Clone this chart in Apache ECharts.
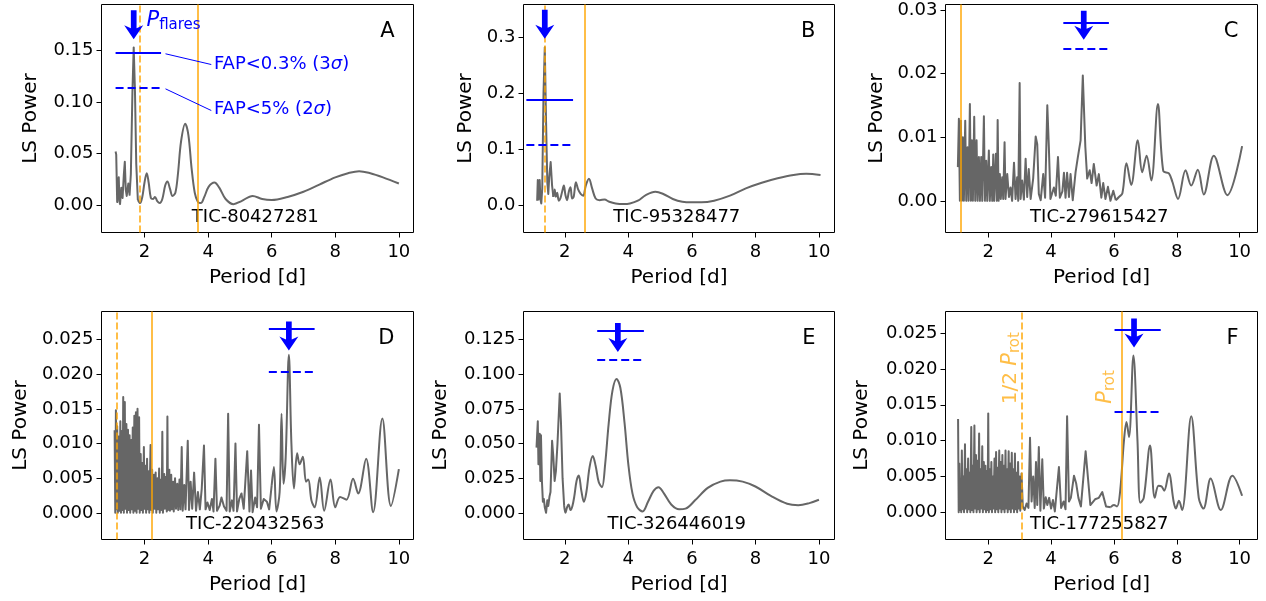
<!DOCTYPE html>
<html><head><meta charset="utf-8">
<script src="https://cdn.jsdelivr.net/npm/echarts@6/dist/echarts.min.js"></script>
<style>html,body{margin:0;padding:0;background:#fff}#c{width:1266px;height:601px}</style>
</head><body><div id="c"></div>
<script>
// ---------------- DATA ----------------
const panelLetters = ['A','B','C','D','E','F'];
const ticNames = ['TIC-80427281','TIC-95328477','TIC-279615427','TIC-220432563','TIC-326446019','TIC-177255827'];
const xTicks = [2,4,6,8,10];
const yTicks = [
  [0,0.05,0.10,0.15],
  [0,0.1,0.2,0.3],
  [0,0.01,0.02,0.03],
  [0,0.005,0.010,0.015,0.020,0.025],
  [0,0.025,0.050,0.075,0.100,0.125],
  [0,0.005,0.010,0.015,0.020,0.025]
];
const yDecimals = [2,1,2,3,3,3];

// period of rotation (solid orange) and half of it (dashed orange)
const rotPeriod     = [3.68, 2.62, 1.14, 2.24, null, 6.24];
const halfRotPeriod = [1.84, 1.36, null, 1.12, null, 3.08];
// flare period (arrow) and the power where the arrow tip points
const flarePeriod   = [1.66, 1.37, 5.04, 6.54, 3.67, 6.64];
const arrowTipPower = [0.161, 0.297, 0.0253, 0.0234, 0.1159, 0.0230];
// false alarm probability levels and their period span
const fap3  = [0.1477, 0.189, 0.0279, 0.02654, 0.1315, 0.02547];
const fap2  = [0.1135, 0.108, 0.0239, 0.02038, 0.1103, 0.01406];
const fapFrom = [1.09, 0.79, 4.39, 5.91, 3.02, 6.02];
const fapTo   = [2.52, 2.26, 5.84, 7.35, 4.49, 7.49];

const curveA = [[1.09,0.052],[1.11,0.049],[1.14,0.003],[1.17,0.02],[1.19,0.027],[1.21,0.004],[1.23,0.001],[1.27,0.017],[1.31,0.007],[1.35,0.03],[1.38,0.042],[1.41,0.015],[1.44,0.009],[1.49,0.021],[1.53,0.01],[1.57,0.03],[1.62,0.11],[1.66,0.153],[1.70,0.11],[1.74,0.04],[1.79,0.005],[1.86,0.002],[1.93,0.008],[2.0,0.022],[2.07,0.031],[2.13,0.022],[2.2,0.007],[2.27,0.006],[2.33,0.008],[2.4,0.004],[2.48,0.002],[2.56,0.006],[2.65,0.019],[2.72,0.023],[2.8,0.016],[2.88,0.009],[2.97,0.012],[3.05,0.03],[3.15,0.062],[3.28,0.079],[3.38,0.068],[3.48,0.036],[3.58,0.012],[3.68,0.003],[3.77,0.002],[3.88,0.008],[4.02,0.018],[4.2,0.022],[4.35,0.017],[4.55,0.006],[4.8,0.001],[5.05,0.004],[5.4,0.009],[5.7,0.006],[6.0,0.005],[6.5,0.008],[7.0,0.013],[7.5,0.02],[8.0,0.027],[8.4,0.031],[8.75,0.033],[9.1,0.031],[9.5,0.027],[10.0,0.021]];

const curveB = [[1.13,0.008],[1.15,0.045],[1.17,0.01],[1.19,0.008],[1.21,0.045],[1.23,0.012],[1.26,0.003],[1.29,0.03],[1.33,0.2],[1.37,0.282],[1.41,0.15],[1.45,0.04],[1.48,0.02],[1.51,0.05],[1.555,0.077],[1.60,0.035],[1.64,0.015],[1.68,0.028],[1.72,0.015],[1.76,0.022],[1.81,0.008],[1.86,0.012],[1.92,0.025],[1.97,0.035],[2.02,0.018],[2.07,0.009],[2.13,0.025],[2.18,0.032],[2.23,0.012],[2.28,0.015],[2.35,0.041],[2.42,0.028],[2.5,0.02],[2.58,0.017],[2.66,0.035],[2.76,0.047],[2.86,0.03],[2.97,0.012],[3.1,0.009],[3.25,0.01],[3.4,0.006],[3.6,0.003],[3.85,0.002],[4.05,0.003],[4.3,0.008],[4.55,0.018],[4.85,0.024],[5.1,0.02],[5.4,0.011],[5.7,0.006],[6.0,0.005],[6.3,0.005],[6.7,0.008],[7.2,0.017],[7.7,0.03],[8.2,0.04],[8.7,0.048],[9.2,0.054],[9.6,0.056],[10.05,0.054]];

const curveC = [[1.034,0.0053],[1.066,0.0129],[1.098,0.0],[1.13,0.0126],[1.162,0.0],[1.194,0.0100],[1.225,0.0],[1.268,0.0126],[1.30,0.0],[1.342,0.0084],[1.374,0.0],[1.416,0.0152],[1.448,0.0],[1.48,0.0095],[1.512,0.0],[1.554,0.0132],[1.586,0.0],[1.629,0.0095],[1.66,0.0],[1.703,0.0069],[1.735,0.0],[1.777,0.0069],[1.809,0.0],[1.862,0.0133],[1.894,0.0],[1.936,0.0063],[1.968,0.0],[2.02,0.0079],[2.05,0.0],[2.095,0.0053],[2.127,0.0],[2.16,0.0073],[2.19,0.0],[2.244,0.0074],[2.276,0.0],[2.30,0.0127],[2.33,0.0],[2.37,0.0042],[2.40,0.0003],[2.445,0.0037],[2.477,0.0003],[2.52,0.0092],[2.55,0.0003],[2.605,0.0042],[2.66,0.0006],[2.71,0.0021],[2.76,0.0],[2.82,0.006],[2.87,0.0003],[2.92,0.0037],[2.955,0.0],[3.0,0.0185],[3.03,0.0003],[3.08,0.0032],[3.135,0.0002],[3.19,0.0066],[3.24,0.0006],[3.29,0.005],[3.35,0.0003],[3.43,0.0035],[3.51,0.0101],[3.56,0.0089],[3.61,0.0011],[3.67,0.0001],[3.75,0.0042],[3.81,0.0005],[3.88,0.015],[3.93,0.0084],[3.98,0.0003],[4.09,0.0021],[4.15,0.0008],[4.22,0.0069],[4.28,0.0005],[4.36,0.0015],[4.41,0.0044],[4.46,0.0005],[4.51,0.0044],[4.57,0.0006],[4.62,0.0042],[4.69,0.0001],[4.78,0.0045],[4.85,0.0068],[4.94,0.0095],[5.01,0.0197],[5.09,0.0085],[5.15,0.0035],[5.23,0.0048],[5.29,0.0028],[5.36,0.0058],[5.45,0.0024],[5.52,0.0042],[5.60,0.0005],[5.66,0.0028],[5.73,0.0003],[5.81,0.0022],[5.89,0.0],[5.98,0.0016],[6.06,0.0001],[6.16,0.0006],[6.27,0.0012],[6.40,0.0059],[6.55,0.0025],[6.76,0.0095],[6.90,0.0045],[7.04,0.0071],[7.19,0.0032],[7.40,0.0152],[7.57,0.0047],[7.75,0.0043],[7.86,0.003],[8.04,0.0003],[8.28,0.0048],[8.46,0.0024],[8.67,0.0049],[8.86,0.0010],[9.18,0.0071],[9.61,0.0009],[10.08,0.0086]];

const curveD = [[1.06,0.0119],[1.08,0.0],[1.10,0.0148],[1.12,0.0005],[1.14,0.0125],[1.16,0.0],[1.19,0.0110],[1.21,0.0003],[1.24,0.0132],[1.26,0.0],[1.29,0.0118],[1.31,0.0004],[1.33,0.0167],[1.35,0.0],[1.38,0.0160],[1.40,0.0006],[1.43,0.0128],[1.45,0.0],[1.48,0.0120],[1.50,0.0004],[1.53,0.0112],[1.55,0.0],[1.58,0.0105],[1.60,0.0005],[1.63,0.0123],[1.65,0.0],[1.68,0.0140],[1.70,0.0003],[1.73,0.0145],[1.75,0.0],[1.78,0.0150],[1.80,0.0006],[1.83,0.0138],[1.85,0.0],[1.88,0.0085],[1.90,0.0004],[1.93,0.0072],[1.95,0.0],[1.98,0.0095],[2.00,0.0006],[2.03,0.0068],[2.05,0.0],[2.08,0.0078],[2.10,0.0005],[2.13,0.0060],[2.15,0.0],[2.19,0.0098],[2.21,0.0004],[2.24,0.0062],[2.26,0.0],[2.30,0.0055],[2.32,0.0006],[2.35,0.0058],[2.37,0.0],[2.41,0.0050],[2.43,0.0005],[2.46,0.0064],[2.48,0.0],[2.52,0.0048],[2.54,0.0004],[2.56,0.0117],[2.58,0.0],[2.62,0.0056],[2.64,0.0006],[2.68,0.0052],[2.70,0.0002],[2.72,0.0139],[2.74,0.0004],[2.78,0.0062],[2.80,0.0003],[2.84,0.0055],[2.86,0.0005],[2.90,0.0045],[2.92,0.0002],[2.96,0.0050],[2.99,0.0006],[3.03,0.0042],[3.06,0.0004],[3.10,0.0048],[3.13,0.0005],[3.17,0.0095],[3.20,0.0003],[3.25,0.0040],[3.29,0.0005],[3.36,0.0104],[3.40,0.0004],[3.45,0.0045],[3.50,0.0006],[3.56,0.0058],[3.62,0.0003],[3.68,0.0030],[3.74,0.0005],[3.80,0.0035],[3.87,0.0097],[3.92,0.0005],[3.98,0.0015],[4.05,0.0004],[4.12,0.0020],[4.17,0.0002],[4.23,0.0078],[4.28,0.0003],[4.36,0.0010],[4.42,0.0022],[4.50,0.0009],[4.58,0.0003],[4.63,0.0143],[4.68,0.0002],[4.75,0.0018],[4.80,0.0003],[4.86,0.0100],[4.91,0.0002],[4.98,0.0020],[5.05,0.0028],[5.12,0.0006],[5.23,0.0089],[5.30,0.0002],[5.35,0.0061],[5.40,0.0001],[5.48,0.0022],[5.54,0.0008],[5.60,0.0127],[5.66,0.0006],[5.75,0.0020],[5.85,0.0016],[5.92,0.0005],[6.00,0.0040],[6.07,0.0066],[6.15,0.0002],[6.25,0.0030],[6.31,0.0143],[6.37,0.0042],[6.44,0.0080],[6.54,0.0228],[6.62,0.0100],[6.70,0.0035],[6.80,0.0086],[6.88,0.0070],[6.98,0.0081],[7.08,0.0045],[7.15,0.0048],[7.25,0.0018],[7.35,0.0008],[7.51,0.0051],[7.65,0.0003],[7.85,0.0048],[8.00,0.0008],[8.15,0.0023],[8.35,0.0019],[8.56,0.0049],[8.72,0.0028],[8.97,0.0078],[9.19,0.0001],[9.48,0.0136],[9.75,0.0010],[10.0,0.0063]];

const curveE = [[1.11,0.047],[1.15,0.066],[1.17,0.035],[1.19,0.045],[1.21,0.057],[1.23,0.023],[1.25,0.056],[1.28,0.023],[1.31,0.008],[1.34,0.01],[1.37,0.004],[1.41,0.0],[1.45,0.009],[1.48,0.005],[1.52,0.012],[1.55,0.015],[1.6,0.052],[1.64,0.04],[1.68,0.023],[1.72,0.03],[1.77,0.05],[1.84,0.086],[1.88,0.065],[1.93,0.025],[1.98,0.005],[2.02,0.0],[2.07,0.004],[2.12,0.006],[2.18,0.002],[2.24,0.005],[2.3,0.012],[2.37,0.023],[2.44,0.027],[2.52,0.016],[2.6,0.008],[2.68,0.015],[2.78,0.033],[2.88,0.041],[2.97,0.034],[3.07,0.022],[3.17,0.0185],[3.27,0.035],[3.38,0.064],[3.5,0.088],[3.63,0.0966],[3.75,0.09],[3.88,0.065],[4.0,0.035],[4.13,0.014],[4.28,0.004],[4.45,0.001],[4.62,0.008],[4.8,0.016],[4.95,0.0185],[5.12,0.014],[5.35,0.006],[5.6,0.0025],[5.8,0.003],[6.1,0.009],[6.5,0.018],[6.9,0.0225],[7.2,0.0235],[7.6,0.0225],[8.0,0.019],[8.5,0.012],[9.0,0.0065],[9.35,0.0055],[9.7,0.007],[10.0,0.0094]];

const curveF = [[1.04,0.0130],[1.06,0.0],[1.08,0.0068],[1.10,0.0003],[1.12,0.0045],[1.14,0.0],[1.16,0.0086],[1.18,0.0004],[1.21,0.0050],[1.23,0.0],[1.26,0.0095],[1.28,0.0005],[1.31,0.0060],[1.33,0.0],[1.36,0.0075],[1.38,0.0004],[1.41,0.0055],[1.43,0.0],[1.46,0.0119],[1.48,0.0003],[1.51,0.0065],[1.53,0.0],[1.56,0.0121],[1.58,0.0005],[1.61,0.0080],[1.63,0.0],[1.66,0.0072],[1.68,0.0004],[1.71,0.0110],[1.73,0.0],[1.76,0.0060],[1.78,0.0005],[1.81,0.0092],[1.83,0.0],[1.86,0.0070],[1.88,0.0004],[1.91,0.0065],[1.93,0.0],[1.96,0.0058],[1.98,0.0003],[2.00,0.0138],[2.02,0.0],[2.05,0.0060],[2.07,0.0004],[2.10,0.0070],[2.12,0.0],[2.15,0.0050],[2.17,0.0005],[2.20,0.0075],[2.22,0.0],[2.25,0.0084],[2.27,0.0004],[2.30,0.0062],[2.32,0.0],[2.35,0.0086],[2.37,0.0005],[2.40,0.0070],[2.42,0.0],[2.45,0.0080],[2.47,0.0004],[2.50,0.0065],[2.52,0.0],[2.55,0.0086],[2.57,0.0005],[2.60,0.0060],[2.62,0.0],[2.65,0.0085],[2.67,0.0004],[2.70,0.0068],[2.72,0.0],[2.75,0.0083],[2.77,0.0005],[2.80,0.0060],[2.82,0.0],[2.85,0.0082],[2.87,0.0004],[2.90,0.0055],[2.92,0.0],[2.95,0.0070],[2.97,0.0005],[3.00,0.0050],[3.02,0.0002],[3.06,0.0054],[3.10,0.0008],[3.16,0.0003],[3.22,0.0012],[3.28,0.0006],[3.33,0.0104],[3.38,0.0015],[3.43,0.0050],[3.48,0.0006],[3.52,0.0070],[3.56,0.0010],[3.61,0.0091],[3.66,0.0002],[3.72,0.0074],[3.77,0.0005],[3.83,0.0021],[3.88,0.0010],[3.94,0.0020],[4.00,0.0005],[4.06,0.0017],[4.12,0.0001],[4.25,0.0063],[4.32,0.0006],[4.40,0.0015],[4.46,0.0004],[4.51,0.0134],[4.57,0.0015],[4.63,0.0020],[4.73,0.0051],[4.80,0.0040],[4.87,0.0020],[4.95,0.0008],[5.10,0.0085],[5.25,0.0010],[5.40,0.0018],[5.52,0.0020],[5.63,0.0028],[5.75,0.0008],[5.90,0.0007],[6.00,0.0010],[6.10,0.0008],[6.20,0.0030],[6.32,0.0100],[6.40,0.0126],[6.48,0.0105],[6.62,0.0219],[6.75,0.0100],[6.84,0.0013],[6.95,0.0020],[7.15,0.0093],[7.30,0.0020],[7.42,0.0037],[7.52,0.0036],[7.60,0.0030],[7.75,0.0054],[7.90,0.0015],[7.97,0.0005],[8.07,0.0016],[8.17,0.0003],[8.46,0.0134],[8.70,0.0020],[8.85,0.0005],[9.08,0.0047],[9.40,0.0003],[9.77,0.0051],[10.08,0.0023]];

const curves = [curveA, curveB, curveC, curveD, curveE, curveF];

// ---------------- LAYOUT / STYLE ----------------
const FONT = 'DejaVu Sans';
const GRAY = '#666666';
const ORANGE = 'rgba(255,165,0,0.72)';
const BLUE = '#0000ff';
const grids = [
  {left:101.5, top:4.5,   width:312, height:228},
  {left:523.5, top:4.5,   width:311, height:228},
  {left:945.5, top:4.5,   width:312, height:228},
  {left:101.5, top:311.5, width:312, height:228},
  {left:523.5, top:311.5, width:311, height:228},
  {left:945.5, top:311.5, width:312, height:228}
];
const xRange = [[0.647,10.46],[0.70,10.49],[0.64,10.57],[0.647,10.46],[0.70,10.49],[0.64,10.57]];
const yRange = [[-0.0265,0.1946],[-0.0488,0.3583],[-0.00497,0.03084],[-0.003846,0.02904],[-0.01923,0.14519],[-0.003817,0.02803]];
const yNameGap = [61,48,59,71,73,74];
const smoothFrom = [1.79, 1.64, 6.0, 6.0, 1.98, 5.9];
const ARROW = 'path://M7,0L13,0L13,18L20,15L10,29L0,15L7,18Z';

const richSub = (color) => ({
  n:{fontSize:20, color:color, fontFamily:FONT, lineHeight:24, verticalAlign:'middle'},
  p:{fontSize:21, fontStyle:'italic', color:color, fontFamily:FONT, lineHeight:24, verticalAlign:'middle'},
  s:{fontSize:15, color:color, fontFamily:FONT, lineHeight:15, verticalAlign:'bottom'},
  i:{fontSize:18, fontStyle:'italic', color:color, fontFamily:FONT}
});
const textPoint = (coord, formatter, color) => ({
  coord: coord, symbol:'circle', symbolSize:0.1, itemStyle:{color:'rgba(0,0,0,0)'},
  label:{show:true, position:'right', distance:0, formatter:formatter, color:color,
         fontSize:18, fontFamily:FONT, rich:richSub(color)}
});

const gridOpt = [], xAxes = [], yAxes = [], series = [], graphics = [];
for (let i = 0; i < 6; i++) {
  const g = grids[i];
  gridOpt.push({left:g.left, top:g.top, width:g.width, height:g.height, show:true,
    borderColor:'#000', borderWidth:1, backgroundColor:'transparent', containLabel:false, outerBoundsMode:'none'});
  xAxes.push({type:'value', gridIndex:i, min:xRange[i][0], max:xRange[i][1], position:'bottom',
    name:'Period [d]', nameLocation:'middle', nameGap:35,
    nameTextStyle:{fontSize:20, color:'#000', fontFamily:FONT},
    axisLine:{show:false, onZero:false}, splitLine:{show:false},
    axisTick:{show:true, length:5, inside:false, customValues:xTicks, lineStyle:{color:'#000', width:1}},
    axisLabel:{show:true, customValues:xTicks, fontSize:18, color:'#000', fontFamily:FONT, margin:11,
      formatter:(v)=>String(v)}});
  const dec = yDecimals[i];
  yAxes.push({type:'value', gridIndex:i, min:yRange[i][0], max:yRange[i][1], position:'left',
    name:'LS Power', nameLocation:'middle', nameGap:yNameGap[i],
    nameTextStyle:{fontSize:20, color:'#000', fontFamily:FONT},
    axisLine:{show:false, onZero:false}, splitLine:{show:false},
    axisTick:{show:true, length:5, inside:false, customValues:yTicks[i], lineStyle:{color:'#000', width:1}},
    axisLabel:{show:true, customValues:yTicks[i], fontSize:18, color:'#000', fontFamily:FONT, margin:8,
      formatter:(v)=>Number(v).toFixed(dec)}});

  const curve = curves[i];
  const idx = curve.findIndex(p => p[0] >= smoothFrom[i]);
  const dense = curve.slice(0, idx + 1);
  const tail = curve.slice(idx);
  const lineStyle = {color:GRAY, width:2, join:'round'};
  series.push({type:'line', xAxisIndex:i, yAxisIndex:i, data:dense, showSymbol:false, symbol:'none',
    lineStyle:lineStyle, silent:true, z:2});

  const ml = [];
  if (rotPeriod[i] != null) ml.push({xAxis:rotPeriod[i], lineStyle:{color:ORANGE, width:2, type:'solid'}});
  if (halfRotPeriod[i] != null) ml.push({xAxis:halfRotPeriod[i], lineStyle:{color:ORANGE, width:2, type:[7,3]}});
  const s3 = {color:BLUE, width:2, type:'solid'}, s2 = {color:BLUE, width:2, type:[8,4]};
  ml.push([{coord:[fapFrom[i], fap3[i]], lineStyle:s3}, {coord:[fapTo[i], fap3[i]], lineStyle:s3}]);
  ml.push([{coord:[fapFrom[i], fap2[i]], lineStyle:s2}, {coord:[fapTo[i], fap2[i]], lineStyle:s2}]);

  const mp = [{coord:[flarePeriod[i], arrowTipPower[i]], symbol:ARROW, symbolSize:[19,29],
    symbolOffset:[0,'-50%'], itemStyle:{color:BLUE}, label:{show:false}}];

  if (i === 0) {
    const c = {color:BLUE, width:1, type:'solid'};
    ml.push([{coord:[2.66,0.1468], lineStyle:c},{coord:[4.10,0.1364], lineStyle:c}]);
    ml.push([{coord:[2.66,0.1128], lineStyle:c},{coord:[4.10,0.0918], lineStyle:c}]);
    mp.push(textPoint([2.06,0.1786], '{p|P}{s|flares}', BLUE));
    mp.push(textPoint([4.18,0.1364], 'FAP<0.3% (3{i|σ})', BLUE));
    mp.push(textPoint([4.18,0.0925], 'FAP<5% (2{i|σ})', BLUE));
  }
  if (i === 5) {
    const t1 = textPoint([2.71,0.0201], '{n|1/2 }{p|P}{s|rot}', ORANGE);
    t1.label.position = 'inside'; t1.label.rotate = 90;
    const t2 = textPoint([5.73,0.0175], '{p|P}{s|rot}', ORANGE);
    t2.label.position = 'inside'; t2.label.rotate = 90;
    mp.push(t1, t2);
  }

  series.push({type:'line', xAxisIndex:i, yAxisIndex:i, data:tail, showSymbol:false, symbol:'none',
    smooth:0.35, lineStyle:lineStyle, silent:true, z:2,
    markLine:{silent:true, symbol:['none','none'], label:{show:false}, data:ml, animation:false},
    markPoint:{silent:true, data:mp, animation:false}});

  graphics.push({type:'text', x:g.left + 0.493*g.width, y:g.top + 0.935*g.height,
    style:{text:ticNames[i], font:'18px "DejaVu Sans"', fill:'#000', textAlign:'center', textVerticalAlign:'middle', align:'center', verticalAlign:'middle'}});
  graphics.push({type:'text', x:g.left + g.width - 19, y:g.top + 27,
    style:{text:panelLetters[i], font:'21px "DejaVu Sans"', fill:'#000', textAlign:'right', textVerticalAlign:'middle', align:'right', verticalAlign:'middle'}});
}

const chart = echarts.init(document.getElementById('c'), null, {renderer:'canvas'});
chart.setOption({
  animation:false,
  backgroundColor:'#fff',
  textStyle:{fontFamily:FONT},
  grid:gridOpt, xAxis:xAxes, yAxis:yAxes, series:series, graphic:graphics
});
</script></body></html>
